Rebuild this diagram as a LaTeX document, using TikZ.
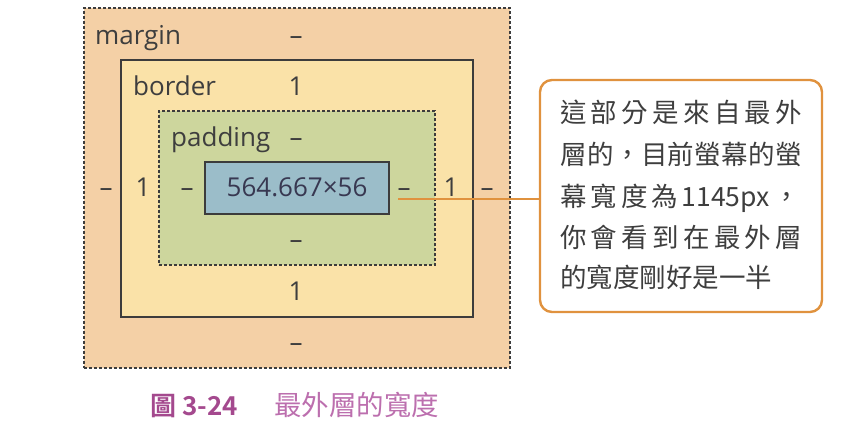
\documentclass[tikz,border=0pt]{standalone}
\usepackage{fontspec}
\setmainfont{Open Sans}
\newfontfamily\cjk{Noto Sans CJK TC}
\newfontfamily\cjkb{Noto Sans CJK TC Bold}
\definecolor{marginfill}{HTML}{F4D0A6}
\definecolor{borderfill}{HTML}{FAE2A8}
\definecolor{paddingfill}{HTML}{CDD69D}
\definecolor{contentfill}{HTML}{9BBDC9}
\definecolor{boxline}{HTML}{3C3C3C}
\definecolor{labeltext}{HTML}{3E3E3E}
\definecolor{callorange}{HTML}{E0923E}
\definecolor{captionbold}{HTML}{A4498E}
\definecolor{captionlight}{HTML}{BC6FAE}
\tikzset{
  layer/.style={draw=boxline, line width=1.3pt, inner sep=0pt},
  dashedlayer/.style={layer, dash pattern=on 3pt off 2pt, line width=1.1pt},
  lbl/.style={font=\fontsize{26}{28}\selectfont, text=labeltext, inner sep=0pt, anchor=base},
  calltext/.style={font=\cjk\fontsize{26.5}{28}\selectfont, text=labeltext, inner sep=0pt, anchor=base west},
}
\newcommand{\spreadline}[1]{\makebox[242pt][s]{#1}}
\begin{document}
\begin{tikzpicture}[x=1pt,y=-1pt]
\useasboundingbox (0,0) rectangle (854,430);
% boxes
\node[dashedlayer, fill=marginfill, minimum width=426pt, minimum height=360pt] (margin) at (297,188) {};
\node[layer, fill=borderfill, minimum width=352pt, minimum height=257pt] (border) at (297,188.5) {};
\node[dashedlayer, fill=paddingfill, minimum width=276pt, minimum height=154pt] (padding) at (297,188) {};
\node[layer, fill=contentfill, minimum width=184pt, minimum height=52pt] (content) at (297,188) {};
% labels
\node[lbl, anchor=base west] (mlab) at (95,45) {margin};
\node[lbl] (mtop) at (296,45) {–};
\node[lbl, anchor=base west] (blab) at (133,96) {border};
\node[lbl] (btop) at (296,96) {1};
\node[lbl, anchor=base west] (plab) at (171,147) {padding};
\node[lbl] (ptop) at (296,147) {–};
\node[lbl, text=labeltext!90!blue] (ctext) at (297,197) {564.667×56};
\node[lbl] (mleft) at (106,197) {–};
\node[lbl] (bleft) at (143,197) {1};
\node[lbl] (pleft) at (187,197) {–};
\node[lbl] (pright) at (404,197) {–};
\node[lbl] (bright) at (451,197) {1};
\node[lbl] (mright) at (487,197) {–};
\node[lbl] (pbot) at (296,249) {–};
\node[lbl] (bbot) at (296,301) {1};
\node[lbl] (mbot) at (296,352) {–};
% callout
\node[draw=callorange, line width=2.4pt, rounded corners=12pt, minimum width=282pt, minimum height=232pt, inner sep=0pt] (callout) at (681,196) {};
\node[calltext] (c1) at (560,123) {\spreadline{這\hfill 部\hfill 分\hfill 是\hfill 來\hfill 自\hfill 最\hfill 外}};
\node[calltext] (c2) at (560,165) {\spreadline{層\hfill 的\hfill ，\hfill 目\hfill 前\hfill 螢\hfill 幕\hfill 的\hfill 螢}};
\node[calltext] (c3) at (560,207) {\makebox[240pt][s]{幕\hfill 寬\hfill 度\hfill 為\hfill 1145px\hfill ，}};
\node[calltext] (c4) at (560,248) {\spreadline{你\hfill 會\hfill 看\hfill 到\hfill 在\hfill 最\hfill 外\hfill 層}};
\node[calltext] (c5) at (560,288) {的寬度剛好是一半};
\coordinate (lstart) at (398,199);
\draw[callorange, line width=2pt] (lstart) -- (lstart -| callout.west);
% caption
\node[font=\cjkb\fontsize{26}{28}\selectfont, text=captionbold, inner sep=0pt, anchor=base west] (cap1) at (150,415) {圖 3-24};
\node[font=\cjk\fontsize{27.5}{30}\selectfont, text=captionlight, inner sep=0pt, anchor=base west] (cap2) at (274,415) {最外層的寬度};
\end{tikzpicture}
\end{document}
